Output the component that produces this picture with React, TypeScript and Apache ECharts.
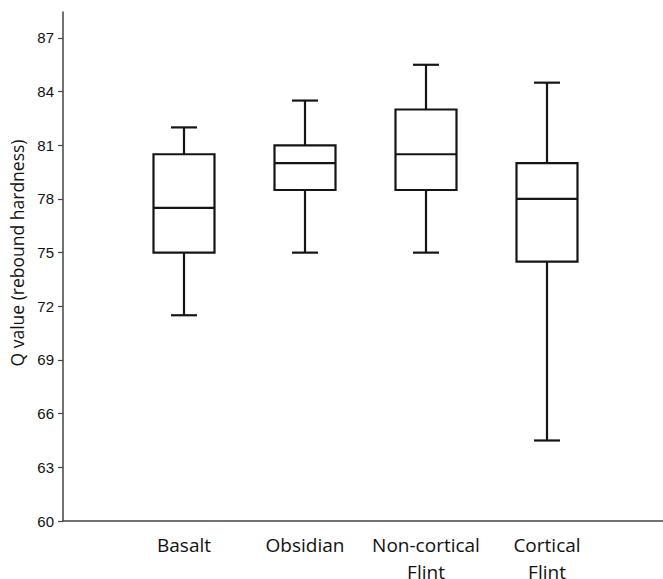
import React, { useEffect, useRef } from "react";
import * as echarts from "echarts";

const categories = ["", "Basalt", "Obsidian", "Non-cortical\nFlint", "Cortical\nFlint", ""];
const lowWhisker = [71.5, 75, 75, 64.5];
const q1Values = [75, 78.5, 78.5, 74.5];
const medianValues = [77.5, 80, 80.5, 78];
const q3Values = [80.5, 81, 83, 80];
const highWhisker = [82, 83.5, 85.5, 84.5];
const yTicks = [60, 63, 66, 69, 72, 75, 78, 81, 84, 87];
const yAxisTitle = "Q value (rebound hardness)";

export default function App() {
  const ref = useRef<HTMLDivElement>(null);
  useEffect(() => {
    if (!ref.current) return;
    const chart = echarts.init(ref.current, null, { renderer: "svg" });
    const data = lowWhisker.map((lo, i) => [
      i + 1,
      lo,
      q1Values[i],
      medianValues[i],
      q3Values[i],
      highWhisker[i],
    ]);
    const stroke = "#151515";
    const lw = 2.2;
    chart.setOption({
      animation: false,
      backgroundColor: "#ffffff",
      grid: {
        left: 63,
        right: -5,
        top: 12,
        bottom: 58,
        containLabel: false,
        outerBoundsMode: "none",
      },
      graphic: [
        {
          type: "text",
          x: 17,
          y: 253,
          rotation: Math.PI / 2,
          style: {
            text: yAxisTitle,
            align: "center",
            verticalAlign: "middle",
            fontFamily: "Open Sans",
            fontSize: 17.5,
            fill: "#111",
          },
        },
      ],
      xAxis: {
        type: "category",
        data: categories,
        boundaryGap: false,
        axisLine: { lineStyle: { color: "#444", width: 1.5 } },
        axisTick: { show: false },
        axisLabel: {
          interval: 0,
          margin: 10,
          fontFamily: "Open Sans",
          fontSize: 19,
          color: "#111",
          lineHeight: 27,
        },
        splitLine: { show: false },
      },
      yAxis: {
        type: "value",
        min: 60,
        max: 88.45,
        axisLine: { show: true, lineStyle: { color: "#444", width: 1.5 } },
        axisTick: {
          show: true,
          length: 5,
          customValues: yTicks,
          lineStyle: { color: "#444", width: 1.2 },
        },
        axisLabel: {
          customValues: yTicks,
          margin: 9,
          fontFamily: "Liberation Sans",
          fontSize: 15,
          color: "#111",
        },
        splitLine: { show: false },
      },
      series: [
        {
          type: "custom",
          data: data,
          encode: { x: 0, y: [1, 2, 3, 4, 5] },
          renderItem: (params: any, api: any) => {
            const x = api.value(0);
            const pLow = api.coord([x, api.value(1)]);
            const pQ1 = api.coord([x, api.value(2)]);
            const pMed = api.coord([x, api.value(3)]);
            const pQ3 = api.coord([x, api.value(4)]);
            const pHigh = api.coord([x, api.value(5)]);
            const cx = pLow[0];
            const bw = 61;
            const cw = 26;
            const style = { stroke, lineWidth: lw, fill: "none" };
            return {
              type: "group",
              children: [
                { type: "line", shape: { x1: cx, y1: pHigh[1], x2: cx, y2: pQ3[1] }, style },
                { type: "line", shape: { x1: cx, y1: pQ1[1], x2: cx, y2: pLow[1] }, style },
                { type: "line", shape: { x1: cx - cw / 2, y1: pHigh[1], x2: cx + cw / 2, y2: pHigh[1] }, style },
                { type: "line", shape: { x1: cx - cw / 2, y1: pLow[1], x2: cx + cw / 2, y2: pLow[1] }, style },
                {
                  type: "rect",
                  shape: { x: cx - bw / 2, y: pQ3[1], width: bw, height: pQ1[1] - pQ3[1] },
                  style: { stroke, lineWidth: lw, fill: "#fff" },
                },
                { type: "line", shape: { x1: cx - bw / 2, y1: pMed[1], x2: cx + bw / 2, y2: pMed[1] }, style },
              ],
            };
          },
        },
      ],
    });
    return () => chart.dispose();
  }, []);
  return (
    <div
      ref={ref}
      style={{ position: "absolute", left: 0, top: 0, width: 663, height: 579 }}
    />
  );
}
